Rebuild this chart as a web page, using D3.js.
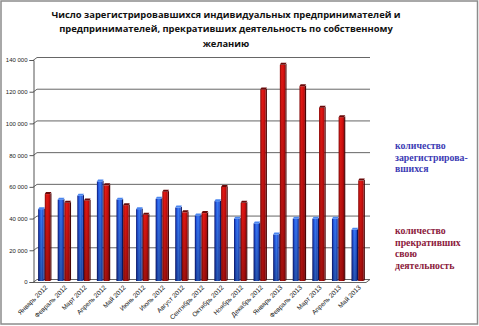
<!DOCTYPE html>
<html>
<head>
<meta charset="utf-8">
<script src="https://cdn.jsdelivr.net/npm/d3@7"></script>
<style>
  html, body { margin: 0; padding: 0; background: #fff; }
  svg { display: block; }
  .legend-text { font-family: "Liberation Serif", "Times New Roman", "DejaVu Serif", serif; font-weight: bold; }
</style>
</head>
<body>
<svg id="chart" width="479" height="326"></svg>
<script>
// Monthly counts, January 2012 – May 2013
const months = ["Январь 2012","Февраль 2012","Март 2012","Апрель 2012","Май 2012","Июнь 2012",
  "Июль 2012","Август 2012","Сентябрь 2012","Октябрь 2012","Ноябрь 2012","Декабрь 2012",
  "Январь 2013","Февраль 2013","Март 2013","Апрель 2013","Май 2013"];
const registered = [45000, 51000, 53500, 62500, 51000, 45000, 51500, 46000, 41000, 50000, 39000, 36000,
  29000, 39000, 39000, 39000, 32000];
const ceased = [54500, 49000, 50500, 60000, 47500, 41500, 56000, 43000, 42500, 59000, 49000, 120500,
  136000, 122500, 109000, 103000, 63000];
const yTicks = [0, 20000, 40000, 60000, 80000, 100000, 120000, 140000];
const titleLines = ["Число зарегистрировавшихся индивидуальных предпринимателей и",
  "предпринимателей, прекративших деятельность по собственному",
  "желанию"];
const legendRegistered = ["количество", "зарегистрирова-", "вшихся"];
const legendCeased = ["количество", "прекративших", "свою", "деятельность"];

const svg = d3.select("#chart");
const defs = svg.append("defs");

// outer frame
svg.append("rect").attr("x", 1).attr("y", 1).attr("width", 476.5).attr("height", 323)
  .attr("fill", "none").attr("stroke", "#8c8c8c").attr("stroke-width", 1.5);

// title
svg.append("g").selectAll("text").data(titleLines).join("text")
  .attr("x", 226).attr("y", (d, i) => 18 + i * 14.3)
  .attr("text-anchor", "middle")
  .attr("font-family", "'Open Sans', sans-serif").attr("font-weight", "bold")
  .attr("font-size", 9.4).attr("fill", "#111")
  .text(d => d);

// geometry of the pseudo-3D plot box
const depthX = 4, depthY = -3;
const x0 = 33, x1 = 366;
const y = d3.scaleLinear().domain([0, 140000]).range([282, 60]);
const x = d3.scaleBand().domain(months).range([x0 + 2, x1 + 2]).paddingInner(0.32).paddingOuter(0.16);
const xs = d3.scaleBand().domain(["reg", "ceased"]).range([0, x.bandwidth()]);

// back-wall gridlines and left-wall diagonals
const grid = svg.append("g").attr("stroke", "#666").attr("stroke-width", 1).attr("fill", "none");
grid.selectAll("line.g").data(yTicks).join("line")
  .attr("x1", x0 + depthX).attr("x2", x1 + depthX)
  .attr("y1", d => y(d) + depthY + 0.5).attr("y2", d => y(d) + depthY + 0.5);
grid.selectAll("line.d").data(yTicks).join("line")
  .attr("x1", x0).attr("x2", x0 + depthX)
  .attr("y1", d => y(d) + 0.5).attr("y2", d => y(d) + depthY + 0.5);
// floor front edge and right corner
grid.append("line").attr("x1", x0).attr("x2", x1).attr("y1", y(0) + 0.5).attr("y2", y(0) + 0.5);
grid.append("line").attr("x1", x1).attr("x2", x1 + depthX).attr("y1", y(0) + 0.5).attr("y2", y(0) + depthY + 0.5);

// y axis
const yAxis = d3.axisLeft(y).tickValues(yTicks).tickSize(4).tickPadding(2)
  .tickFormat(d => d3.format(",")(d).replace(/,/g, " "));
const yg = svg.append("g").attr("transform", `translate(${x0 + 0.5},0)`).call(yAxis);
yg.select(".domain").attr("stroke", "#555");
yg.selectAll(".tick line").attr("stroke", "#555");
yg.selectAll("text").attr("font-family", "'Liberation Sans', Arial, sans-serif")
  .attr("font-size", 6).attr("fill", "#222");

// gradients for cylinder-like bars
function hGrad(id, stops) {
  const g = defs.append("linearGradient").attr("id", id).attr("x1", 0).attr("x2", 1).attr("y1", 0).attr("y2", 0);
  stops.forEach(s => g.append("stop").attr("offset", s[0]).attr("stop-color", s[1]));
}
hGrad("blueFace", [[0, "#0a1670"], [0.3, "#2458e4"], [0.6, "#3a7cf4"], [1, "#1a42c8"]]);
hGrad("redFace", [[0, "#8a0a0a"], [0.35, "#e41a14"], [0.7, "#d41010"], [1, "#a00808"]]);
const vshade = defs.append("linearGradient").attr("id", "shade").attr("x1", 0).attr("x2", 0).attr("y1", 0).attr("y2", 1);
vshade.append("stop").attr("offset", 0).attr("stop-color", "#000").attr("stop-opacity", 0);
vshade.append("stop").attr("offset", 1).attr("stop-color", "#000").attr("stop-opacity", 0.28);

const series = [
  { key: "reg", values: registered, face: "url(#blueFace)", side: "#0a1660", top: "#4a86f0" },
  { key: "ceased", values: ceased, face: "url(#redFace)", side: "#4a0505", top: "#6a0a0a" }
];
const sideW = 1.2, capH = 2;

const bars = svg.append("g");
series.forEach(s => {
  const g = bars.append("g");
  const bx = (d, i) => x(months[i]) + xs(s.key);
  const bw = xs.bandwidth() - sideW;
  // side face
  g.selectAll("path.side").data(s.values).join("path")
    .attr("fill", s.side)
    .attr("d", (d, i) => {
      const l = bx(d, i) + bw, t = y(d) - 1.5, b = y(0) - 1;
      return `M${l},${t}L${l + sideW},${t - capH / 2}L${l + sideW},${b - capH / 2}L${l},${b}Z`;
    });
  // front face
  g.selectAll("rect.face").data(s.values).join("rect")
    .attr("x", (d, i) => bx(d, i)).attr("width", bw)
    .attr("y", d => y(d) - 1.5).attr("height", d => y(0) - y(d) + 0.5)
    .attr("fill", s.face);
  g.selectAll("rect.shade").data(s.values).join("rect")
    .attr("x", (d, i) => bx(d, i)).attr("width", bw)
    .attr("y", d => y(d) - 1.5).attr("height", d => y(0) - y(d) + 0.5)
    .attr("fill", "url(#shade)");
  // top cap
  g.selectAll("path.top").data(s.values).join("path")
    .attr("fill", s.top)
    .attr("d", (d, i) => {
      const l = bx(d, i), t = y(d) - 1.5;
      return `M${l},${t}L${l + sideW},${t - capH}L${l + bw + sideW},${t - capH}L${l + bw},${t}Z`;
    });
});

// category labels, rotated
svg.append("g").selectAll("text").data(months).join("text")
  .attr("transform", d => `translate(${x(d) + x.bandwidth() / 2 + 3},${y(0) + 6}) rotate(-45)`)
  .attr("text-anchor", "end")
  .attr("font-family", "'Liberation Sans', Arial, sans-serif")
  .attr("font-size", 6.5).attr("fill", "#111")
  .text(d => d);

// legend text blocks
function legend(lines, yStart, color) {
  svg.append("g").selectAll("text").data(lines).join("text")
    .attr("class", "legend-text")
    .attr("x", 395).attr("y", (d, i) => yStart + i * 11.6)
    .attr("font-size", 9.8).attr("fill", color)
    .text(d => d);
}
legend(legendRegistered, 149, "#3c3cb4");
legend(legendCeased, 234, "#8c1a3c");
</script>
</body>
</html>
